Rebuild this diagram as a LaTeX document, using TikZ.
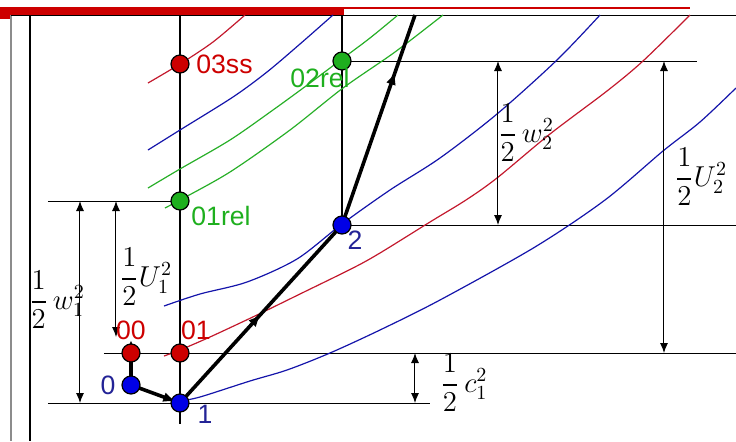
\documentclass[tikz,border=0pt]{standalone}
\usepackage{amsmath}
\usepackage{fontspec}
\setsansfont{Liberation Sans}
\usepackage{tikz}
\usetikzlibrary{arrows.meta,positioning,decorations.markings}
\definecolor{rouge}{RGB}{205,0,0}
\definecolor{vert}{RGB}{30,175,30}
\definecolor{bleu}{RGB}{0,0,230}
\definecolor{navy}{RGB}{35,35,150}
\definecolor{isored}{RGB}{195,25,45}
\definecolor{isoblue}{RGB}{20,20,170}
\definecolor{isogreen}{RGB}{40,175,40}
\pgfdeclarelayer{fond}
\pgfsetlayers{fond,main}

\begin{document}
\begin{tikzpicture}[x=0.5pt,y=-0.5pt,
    etat/.style={circle,draw=black,line width=0.6pt,minimum size=9pt,inner sep=0pt},
    lab/.style={font=\fontsize{13.3}{15}\sffamily,inner sep=0pt},
    mathlab/.style={font=\fontsize{14}{16}\selectfont,inner sep=0pt},
    cote/.style={{Latex[length=5pt,width=4pt]}-{Latex[length=5pt,width=4pt]},line width=0.5pt},
    iso/.style={line width=0.6pt,smooth},
    chemin/.style={line width=1.8pt},
    fleche/.style={postaction={decorate},decoration={markings,
        mark=at position #1 with {\arrow{Latex[length=6.5pt,width=5pt]}}}}]
  \useasboundingbox (0,0) rectangle (736,441);

  % points d'etat
  \foreach \n/\x/\y/\c in {p03ss/180/64/rouge, p02rel/342/61/vert, p01rel/180/201/vert,
      p2/342/225/bleu, p01/180/353/rouge, p00/131/353/rouge, p0/131/385/bleu, p1/180/403/bleu}
    \node[etat,fill=\c] (\n) at (\x,\y) {};

  % bouts libres
  \coordinate (h0) at (180,15); \coordinate (h1) at (342,15); \coordinate (b0) at (180,424);
  \coordinate (ha) at (697,61); \coordinate (hb) at (48,201); \coordinate (hc) at (736,225);
  \coordinate (hd) at (104,353); \coordinate (he) at (736,353);
  \coordinate (hf) at (48,403); \coordinate (hg) at (430,403);
  \coordinate (sortie) at (415,15);
  \coordinate (cw1) at (80,0); \coordinate (cu1) at (116,337);
  \coordinate (cw2) at (498,0); \coordinate (cu2) at (664,0); \coordinate (cc1) at (415,0);

  \begin{pgfonlayer}{fond}
    % cadre
    \fill[rouge] (0,7) rectangle (344,15);
    \fill[rouge] (0,15) rectangle (11,19);
    \draw[rouge,line width=1pt] (344,8) -- (690,8);
    \draw[black!45,line width=0.7pt] (11,15) -- (11,441);
    \draw[line width=0.5pt] (11,15.5) -- (736,15.5);
    \draw[line width=0.9pt] (30,15) -- (30,441);
    % reperes
    \draw[line width=1.1pt] (h0) -- (b0);
    \draw[line width=1pt] (h1) -- (p2.center);
    \draw[line width=0.5pt] (p02rel.center) -- (ha);
    \draw[line width=0.5pt] (hb) -- (p01rel.center);
    \draw[line width=0.5pt] (p2.center) -- (hc);
    \draw[line width=0.5pt] (hd) -- (he);
    \draw[line width=0.5pt] (hf) -- (hg);
    % isobares
    \draw[iso,isored] plot coordinates {(148,83) (180,64) (213,42) (245,15)};
    \draw[iso,isoblue] plot coordinates {(148,150) (180,130) (233,97) (267,72) (300,44) (333,15)};
    \draw[iso,isogreen] plot coordinates {(148,188) (180,169) (230,140) (273,110) (310,83) (342,59) (370,38) (398,15)};
    \draw[iso,isogreen] plot coordinates {(165,208) (180,200) (230,172) (290,130) (343,88) (395,52) (443,15)};
    \draw[iso,isoblue] plot coordinates {(164,306) (200,294) (247,282) (297,259) (342,224) (390,190)
        (440,158) (497,114) (557,60) (600,15)};
    \draw[iso,isored] plot coordinates {(164,356) (180,350) (210,337) (257,315) (300,294) (353,268)
        (380,253) (430,222) (466,200) (497,178) (550,134) (607,91) (643,61) (690,15)};
    \draw[iso,isoblue] plot coordinates {(180,401) (200,397) (250,381) (287,370) (330,353) (380,330)
        (440,300) (535,247) (605,200) (663,151) (700,122) (736,88)};
    % evolution
    \draw[chemin,-{Latex[length=6.5pt,width=5pt]},shorten >=2pt] (p0.center) -- (p1.center);
    \draw[chemin,-{Latex[length=4pt,width=4pt]}] (p0.center) -- ([yshift=1.5pt]p00.north);
    \draw[chemin,fleche=0.5] (p1.center) -- (p2.center);
    \draw[chemin,fleche=0.73] (p2.center) -- (sortie);
  \end{pgfonlayer}

  % cotes
  \draw[cote] (p01rel -| cw1) -- (p1 -| cw1);
  \draw[cote] (p01rel -| cu1) -- (cu1);
  \draw[cote] (p02rel -| cw2) -- (p2 -| cw2);
  \draw[cote] (p02rel -| cu2) -- (p01 -| cu2);
  \draw[cote] (p01 -| cc1) -- (p1 -| cc1);
  \node[mathlab] (lw1) at (57,300) {$\dfrac{1}{2}\,w_1^2$};
  \node[mathlab] (lu1) at (146,277) {$\dfrac{1}{2}U_1^2$};
  \node[mathlab] (lw2) at (526,133) {$\dfrac{1}{2}\,w_2^2$};
  \node[mathlab] (lu2) at (701,177) {$\dfrac{1}{2}U_2^2$};
  \node[mathlab] (lc1) at (464,383) {$\dfrac{1}{2}\,c_1^2$};

  % etiquettes
  \node[lab,rouge,anchor=west] (t03ss) at (196,64) {03ss};
  \node[lab,vert] (t02rel) at (320,78) {02rel};
  \node[lab,vert] (t01rel) at (221,216) {01rel};
  \node[lab,navy] (t2) at (355,240) {2};
  \node[lab,rouge] (t01) at (196,330) {01};
  \node[lab,rouge] (t00) at (131,330) {00};
  \node[lab,navy] (t0) at (108,385) {0};
  \node[lab,navy] (t1) at (205,414) {1};
\end{tikzpicture}
\end{document}
